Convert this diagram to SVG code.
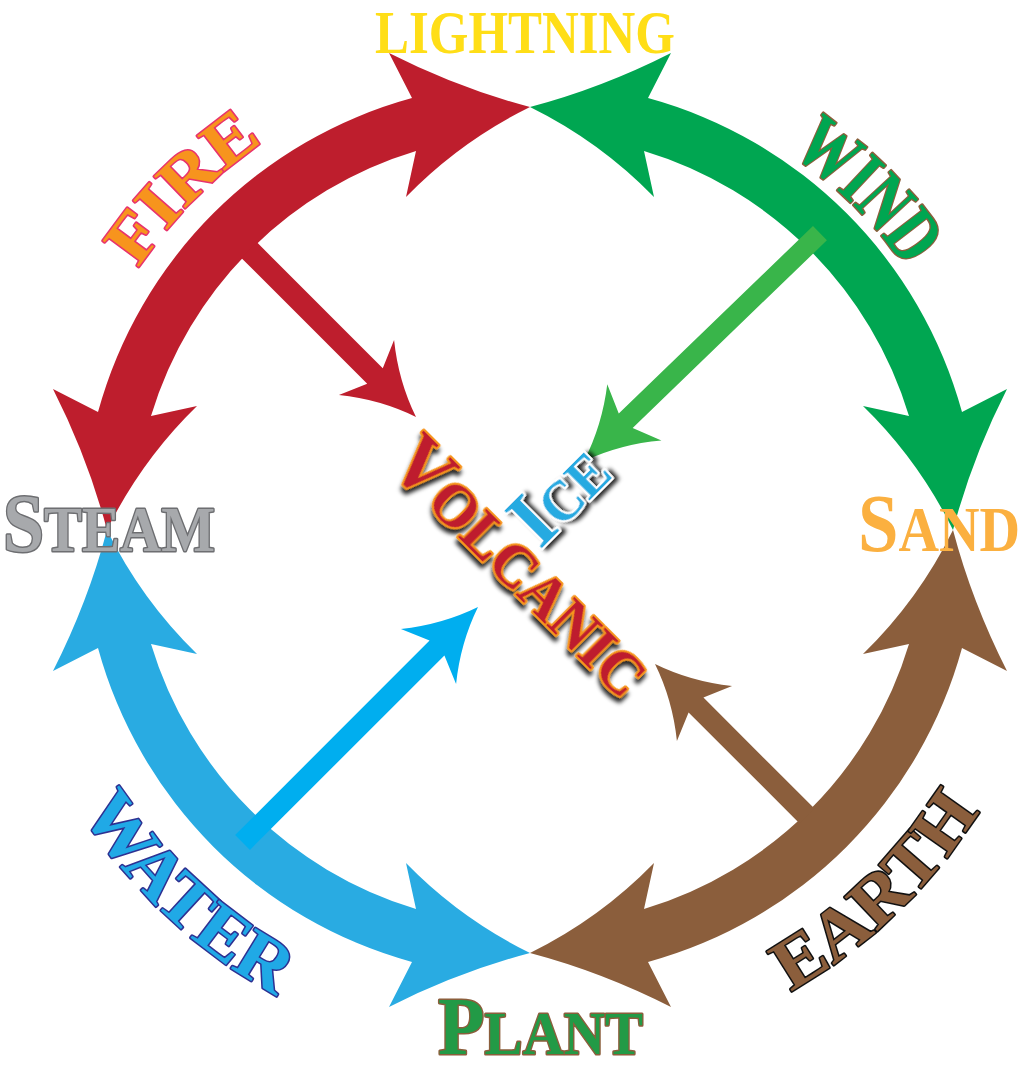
<svg xmlns="http://www.w3.org/2000/svg" width="1036" height="1071" viewBox="0 0 1036 1071">
<defs>
<style>
.t{font-family:"Liberation Serif","DejaVu Serif",serif;font-weight:bold;stroke-linejoin:round;paint-order:stroke}
.sc{text-transform:uppercase}
</style>
<path id="ring" d="M530,107 Q458,88 389,53 L412,98 A448,448 0 0 0 98,412 L53,389 Q88,458 107,530 Q141.5,460 197,406 L151,416 A396,396 0 0 1 416,151 L406,197 Q460,141.5 530,107 Z"/>
<path id="pFire" d="M59,530 A471,471 0 0 1 1001,530" fill="none"/>
<path id="pWind" d="M72,530 A458,458 0 0 1 988,530" fill="none"/>
<path id="pLow" d="M0,530 A530,530 0 0 0 1060,530" fill="none"/>
<filter id="sh" x="-20%" y="-20%" width="140%" height="140%">
<feDropShadow dx="3" dy="4" stdDeviation="2" flood-color="#000" flood-opacity="0.85"/>
</filter>
</defs>
<rect width="1036" height="1071" fill="#fff"/>
<g id="connectors">
<use href="#ring" fill="#BE1E2D"/>
<use href="#ring" fill="#00A651" transform="rotate(90 530 530)"/>
<use href="#ring" fill="#8B5E3C" transform="rotate(180 530 530)"/>
<use href="#ring" fill="#29ABE2" transform="rotate(270 530 530)"/>
<path fill="#BE1E2D" transform="translate(416,417) rotate(45)" d="M0,0 Q-38,-13 -70,-39 L-58,-11 L-236,-11 L-236,11 L-58,11 L-70,39 Q-38,13 0,0 Z"/>
<path fill="#39B54A" transform="translate(584,461) rotate(136)" d="M0,0 Q-38,-13 -70,-39 L-58,-10 L-328,-10 L-328,10 L-58,10 L-70,39 Q-38,13 0,0 Z"/>
<path fill="#00AEEF" transform="translate(478,607) rotate(-45)" d="M0,0 Q-38,-13 -70,-39 L-58,-10.5 L-333,-10.5 L-333,10.5 L-58,10.5 L-70,39 Q-38,13 0,0 Z"/>
<path fill="#8B5E3C" transform="translate(655,664) rotate(225)" d="M0,0 Q-38,-13 -70,-39 L-58,-10.5 L-215,-10.5 L-215,10.5 L-58,10.5 L-70,39 Q-38,13 0,0 Z"/>
</g>
<g id="lightning"><text class="t" x="375" y="53" font-size="62" fill="#FFDE17" textLength="300" lengthAdjust="spacingAndGlyphs">LIGHTNING</text></g>
<g id="fire"><text class="t" font-size="68" fill="#F7941D" stroke="#E8336D" stroke-width="3"><textPath href="#pFire" startOffset="366.6" text-anchor="middle" textLength="179" lengthAdjust="spacingAndGlyphs">FIRE</textPath></text></g>
<g id="wind"><text class="t" font-size="78" fill="#00A651" stroke="#8B5E3C" stroke-width="3"><textPath href="#pWind" startOffset="1078" text-anchor="middle" textLength="164" lengthAdjust="spacingAndGlyphs">WIND</textPath></text></g>
<g id="water"><text class="t" font-size="72" fill="#20A9E6" stroke="#2E3192" stroke-width="3"><textPath href="#pLow" startOffset="432.4" text-anchor="middle" textLength="271" lengthAdjust="spacingAndGlyphs">WATER</textPath></text></g>
<g id="earth"><text class="t" font-size="72" fill="#8B5E3C" stroke="#111" stroke-width="3"><textPath href="#pLow" startOffset="1236.7" text-anchor="middle" textLength="264" lengthAdjust="spacingAndGlyphs">EARTH</textPath></text></g>
<g id="steam"><text class="t" x="3" y="551" font-size="83" fill="#A7A9AC" stroke="#6D6E71" stroke-width="3" textLength="212" lengthAdjust="spacingAndGlyphs">S<tspan class="sc" font-size="64">team</tspan></text></g>
<g id="sand"><text class="t" x="858" y="551" font-size="83" fill="#FBB040" textLength="162" lengthAdjust="spacingAndGlyphs">S<tspan class="sc" font-size="64">and</tspan></text></g>
<g id="plant"><text class="t" x="438" y="1054" font-size="83" fill="#229A46" stroke="#8B5E3C" stroke-width="3" textLength="205" lengthAdjust="spacingAndGlyphs">P<tspan class="sc" font-size="62">lant</tspan></text></g>
<g id="volcanic"><text class="t" transform="translate(387,466) rotate(45)" font-size="78" fill="#BE1E2D" stroke="#F7941D" stroke-width="4" filter="url(#sh)" textLength="332" lengthAdjust="spacingAndGlyphs">V<tspan class="sc" font-size="62">olcanic</tspan></text></g>
<g id="ice"><text class="t" transform="translate(540,550) rotate(-45)" font-size="80" fill="#27AAE1" stroke="#fff" stroke-width="4" filter="url(#sh)" textLength="105" lengthAdjust="spacingAndGlyphs">I<tspan class="sc" font-size="56">ce</tspan></text></g>
</svg>
